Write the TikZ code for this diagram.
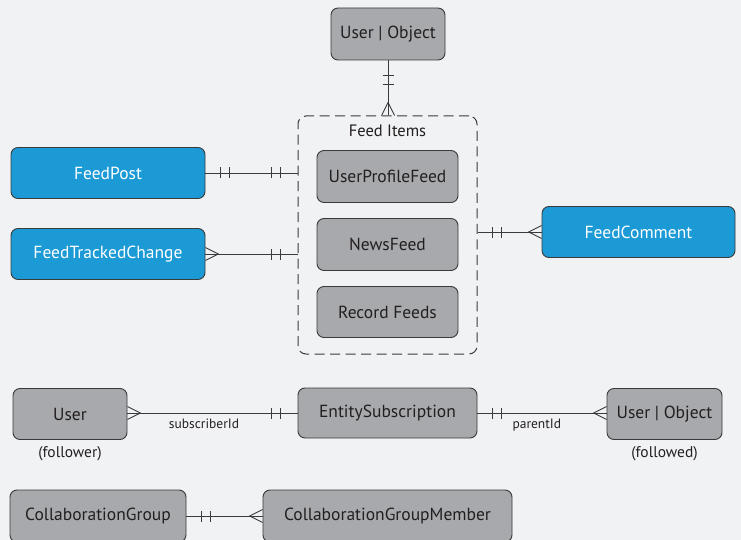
\documentclass[tikz,border=0pt]{standalone}
\usepackage{fontspec}
\setmainfont{PT Sans}
\usetikzlibrary{decorations.markings}
\definecolor{bggray}{HTML}{F1F2F4}
\definecolor{boxgray}{HTML}{A7A9AC}
\definecolor{feedblue}{HTML}{1B9AD6}
\definecolor{edgegray}{HTML}{3A3A3A}
\definecolor{inkgray}{HTML}{231F20}
\tikzset{
  onestart/.style={postaction={decorate,decoration={markings,
    mark=at position 15pt with {\draw[edgegray,line width=0.9pt] (0,-5.5pt) -- (0,5.5pt);},
    mark=at position 24pt with {\draw[edgegray,line width=0.9pt] (0,-5.5pt) -- (0,5.5pt);}}}},
  oneend/.style={postaction={decorate,decoration={markings,
    mark=at position -26pt with {\draw[edgegray,line width=0.9pt] (0,-5.5pt) -- (0,5.5pt);},
    mark=at position -17pt with {\draw[edgegray,line width=0.9pt] (0,-5.5pt) -- (0,5.5pt);}}}},
  manystart/.style={postaction={decorate,decoration={markings,
    mark=at position 13pt with {\draw[edgegray,line width=0.9pt] (-13pt,6.5pt) -- (0,0) -- (-13pt,-6.5pt);}}}},
  manyend/.style={postaction={decorate,decoration={markings,
    mark=at position -13pt with {\draw[edgegray,line width=0.9pt] (13pt,6.5pt) -- (0,0) -- (13pt,-6.5pt);}}}}
}
\begin{document}
\begin{tikzpicture}[x=1pt,y=-1pt,
    entity/.style={draw=edgegray,line width=0.9pt,fill=boxgray,rounded corners=7pt,text=inkgray,
      minimum height=52pt,inner sep=0pt,font=\fontsize{17.5}{20}\selectfont},
    feedbox/.style={entity,fill=feedblue,text=white},
    link/.style={draw=edgegray,line width=0.9pt},
    note/.style={text=inkgray,font=\fontsize{13.5}{16}\selectfont}]
	\useasboundingbox[fill=bggray] (0,0) rectangle (741,540);
	
	\node(up) at (388,34)[entity,minimum width=114pt]{User | Object};
	\node(feed) at (387.5,235)[draw=edgegray,line width=1pt,dash pattern=on 10pt off 5.5pt,rounded corners=8pt,minimum width=179pt,minimum height=238pt]{};
	\node(feedtitle) at (387.5,131)[text=inkgray,font=\fontsize{16.5}{19}\selectfont]{Feed Items};
	\node(upf) at (387.5,176.5)[entity,minimum width=141pt]{UserProfileFeed};
	\node(nf) at (387.5,244.5)[entity,minimum width=141pt]{NewsFeed};
	\node(rf) at (387.5,312)[entity,minimum width=141pt,minimum height=51pt]{Record Feeds};
	
	\node(fp) at (108,173)[feedbox,minimum width=194pt,minimum height=51pt]{FeedPost};
	\node(ftc) at (108,254)[feedbox,minimum width=194pt,minimum height=51pt]{FeedTrackedChange};
	\node(fc) at (638.5,232)[feedbox,minimum width=193pt,minimum height=51pt]{FeedComment};
	
	\node(user) at (70,414)[entity,minimum width=114pt,minimum height=51pt,label={[note,font=\fontsize{15.5}{18}\selectfont,label distance=3pt]below:(follower)}]{User};
	\node(es) at (387.5,413)[entity,minimum width=179pt,minimum height=50pt]{EntitySubscription};
	\node(uo) at (664.5,414)[entity,minimum width=115pt,minimum height=51pt,label={[note,font=\fontsize{15.5}{18}\selectfont,label distance=3pt]below:(followed)}]{User | Object};
	
	\node(cg) at (98,516)[entity,minimum width=176pt]{CollaborationGroup};
	\node(cgm) at (387.5,516)[entity,minimum width=249pt]{CollaborationGroupMember};
	
	\draw[link,onestart,manyend] (up) to (up |- feed.north);
	\draw[link,onestart,oneend] (fp.east) to (fp.east -| feed.west);
	\draw[link,manystart,oneend] (ftc.east) to (ftc.east -| feed.west);
	\draw[link,onestart,manyend] (fc.west -| feed.east) to (fc.west);
	\draw[link,manystart,oneend] (user.east |- es.west) to node[note,pos=0.45,below=2pt]{subscriberId} (es.west);
	\draw[link,onestart,manyend] (es.east) to node[note,pos=0.46,below=2pt]{parentId} (es.east -| uo.west);
	\draw[link,onestart,manyend] (cg) to (cgm);
\end{tikzpicture}
\end{document}
